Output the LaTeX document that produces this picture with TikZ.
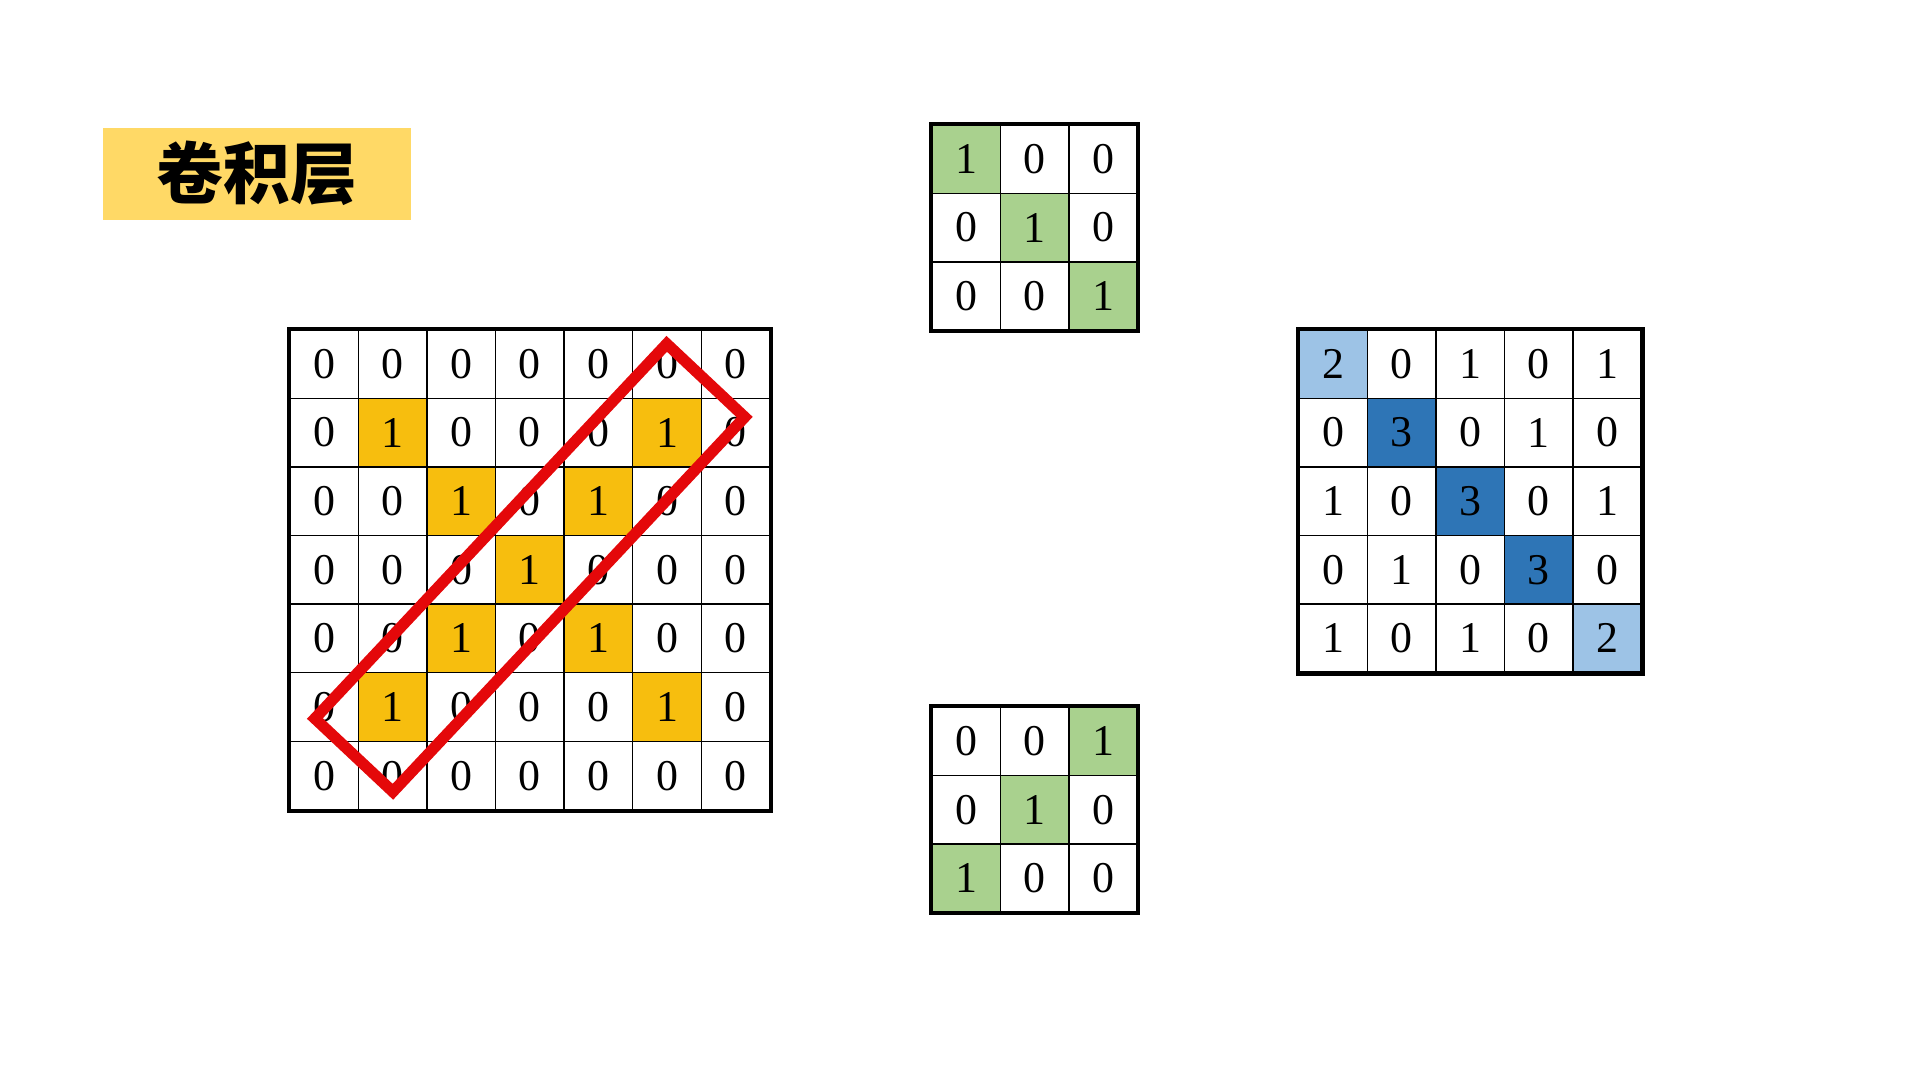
\documentclass[tikz,border=0pt]{standalone}
\usepackage{fontspec}
\setmainfont{Liberation Serif}
\newfontfamily\cjk{Noto Sans CJK SC}
\definecolor{titlegold}{HTML}{FFD966}
\definecolor{cellgold}{HTML}{F7BE0E}
\definecolor{cellgreen}{HTML}{A9D18E}
\definecolor{lightblue}{HTML}{9DC3E6}
\definecolor{darkblue}{HTML}{2E75B6}
\definecolor{boxred}{RGB}{228,8,10}

\begin{document}
\begin{tikzpicture}[
    cell/.style={draw,line width=0.4pt,minimum size=0.686cm,inner sep=0pt,
      anchor=north west,font=\fontsize{12.5}{13}\selectfont},
    in0/.style={}, in1/.style={fill=cellgold},
    k0/.style={}, k1/.style={fill=cellgreen},
    out0/.style={}, out1/.style={}, out2/.style={fill=lightblue}, out3/.style={fill=darkblue},
    frame/.style={line width=1.2pt} ]
    \useasboundingbox (0,0) rectangle (19.2,-10.8);
    \node[fill=titlegold,minimum width=3.08cm,minimum height=0.92cm,inner sep=0pt,anchor=north west,
      font=\cjk\bfseries\fontsize{19}{20}\selectfont] (title) at (1.02,-1.27) {卷积层};
    % input image
    \foreach \row [count=\r] in {{0,0,0,0,0,0,0},{0,1,0,0,0,1,0},{0,0,1,0,1,0,0},{0,0,0,1,0,0,0},
        {0,0,1,0,1,0,0},{0,1,0,0,0,1,0},{0,0,0,0,0,0,0}}
      \foreach \v [count=\c] in \row
        \node[cell,in\v] (in-\r-\c) at ({2.89+(\c-1)*0.686},{-3.29-(\r-1)*0.686}) {\v};
    \draw[frame] (in-1-1.north west) rectangle (in-7-7.south east);
    \node[draw=boxred,line width=3.2pt,rotate=46.8,minimum width=5.14cm,minimum height=1.07cm] (window)
      at ([yshift=0.02cm]in-4-4.center) {};
    % kernels
    \foreach \row [count=\r] in {{1,0,0},{0,1,0},{0,0,1}}
      \foreach \v [count=\c] in \row
        \node[cell,k\v] (ka-\r-\c) at ({9.31+(\c-1)*0.686},{-1.24-(\r-1)*0.686}) {\v};
    \draw[frame] (ka-1-1.north west) rectangle (ka-3-3.south east);
    \foreach \row [count=\r] in {{0,0,1},{0,1,0},{1,0,0}}
      \foreach \v [count=\c] in \row
        \node[cell,k\v] (kb-\r-\c) at ({9.31+(\c-1)*0.686},{-7.06-(\r-1)*0.686}) {\v};
    \draw[frame] (kb-1-1.north west) rectangle (kb-3-3.south east);
    % feature map
    \foreach \row [count=\r] in {{2,0,1,0,1},{0,3,0,1,0},{1,0,3,0,1},{0,1,0,3,0},{1,0,1,0,2}}
      \foreach \v [count=\c] in \row
        \node[cell,out\v] (out-\r-\c) at ({12.98+(\c-1)*0.686},{-3.29-(\r-1)*0.686}) {\v};
    \draw[frame] (out-1-1.north west) rectangle (out-5-5.south east);
\end{tikzpicture}
\end{document}
